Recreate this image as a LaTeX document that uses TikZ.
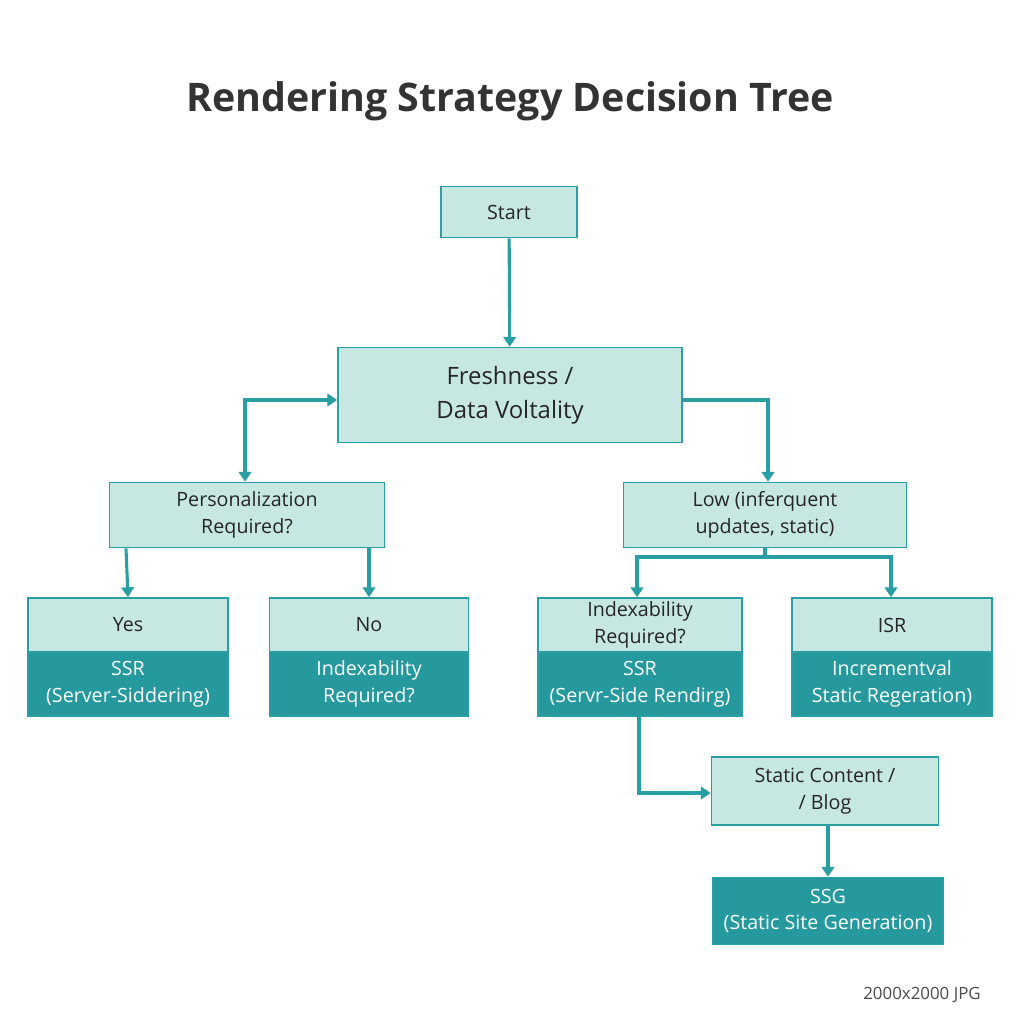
\documentclass[tikz,border=0pt]{standalone}
\usepackage{fontspec}
\setmainfont{Open Sans}
\usetikzlibrary{arrows.meta}
\definecolor{teal1}{HTML}{2A9FA3}
\definecolor{tealL}{HTML}{C6E7E2}
\definecolor{tealD}{HTML}{25999D}
\begin{document}
\begin{tikzpicture}[x=0.025cm,y=-0.025cm,
    box/.style={draw=teal1,line width=1.2pt,fill=tealL,align=center,inner sep=0pt,font=\fontsize{14}{19}\selectfont,text=black!85},
    dark/.style={box,fill=tealD,text=white},
    arr/.style={draw=teal1,line width=2.2pt,-{Triangle[length=7pt,width=9pt]}}]
  \useasboundingbox[fill=white] (0,0) rectangle (1024,1024);
  \node[font=\fontsize{28}{32}\selectfont\bfseries,text=black!80] (title) at (510,101) {Rendering Strategy Decision Tree};
  % first levels
  \node[box,minimum width=136*0.025cm,minimum height=51*0.025cm] (start) at (509,212) {Start};
  \node[box,minimum width=344*0.025cm,minimum height=95*0.025cm,font=\fontsize{17}{24}\selectfont] (fresh) at (510,395) {Freshness /\\Data Voltality};
  \node[box,minimum width=275*0.025cm,minimum height=65*0.025cm] (pers) at (247,515) {Personalization\\Required?};
  \node[box,minimum width=283*0.025cm,minimum height=65*0.025cm] (low) at (765,515) {Low (inferquent\\updates, static)};
  % split boxes
  \node[box,minimum width=200*0.025cm,minimum height=54*0.025cm] (yesT) at (128,625) {Yes};
  \node[dark,minimum width=200*0.025cm,minimum height=64*0.025cm] (yesB) at (128,684) {SSR\\(Server-Siddering)};
  \node[box,minimum width=199*0.025cm,minimum height=54*0.025cm] (noT) at (369,625) {No};
  \node[dark,minimum width=199*0.025cm,minimum height=64*0.025cm] (noB) at (369,684) {Indexability\\Required?};
  \node[box,minimum width=204*0.025cm,minimum height=54*0.025cm] (idxT) at (640,625) {Indexability\\Required?};
  \node[dark,minimum width=204*0.025cm,minimum height=64*0.025cm] (idxB) at (640,684) {SSR\\(Servr-Side Rendirg)};
  \node[box,minimum width=200*0.025cm,minimum height=54*0.025cm] (isrT) at (892,625) {ISR};
  \node[dark,minimum width=200*0.025cm,minimum height=64*0.025cm] (isrB) at (892,684) {Incrementval\\Static Regeration)};
  \node[box,minimum width=227*0.025cm,minimum height=68*0.025cm] (stat) at (825,791) {Static Content /\\/ Blog};
  \node[dark,minimum width=230*0.025cm,minimum height=67*0.025cm] (ssg) at (828,911) {SSG\\(Static Site Generation)};
  \node[font=\fontsize{12}{14}\selectfont,text=black!70] (jpg) at (922,995) {2000x2000 JPG};
  % connectors
  \coordinate (pl) at (245,400);
  \coordinate (fr) at (768,400);
  \coordinate (split) at (765,557);
  \coordinate (sl) at (637,557);
  \coordinate (sr) at (891,557);
  \coordinate (down) at (639,793);
  \draw[arr] (start) -- (fresh);
  \draw[arr,{Triangle[length=7pt,width=9pt]}-{Triangle[length=7pt,width=9pt]}] (pers.north -| pl) -- (pl) -- (fresh.west |- pl);
  \draw[arr] (fresh.east |- fr) -- (fr) -- (low.north -| fr);
  \draw[arr] (pers.south -| yesT.north) ++(-2,0) -- (yesT.north);
  \draw[arr] (pers.south -| noT) -- (noT);
  \draw[draw=teal1,line width=2.2pt] (low.south) -- (split);
  \draw[arr] (split) -- (sl) -- (idxT.north -| sl);
  \draw[arr] (split) -- (sr) -- (isrT.north -| sr);
  \draw[arr] (idxB.south -| down) -- (down) -- (stat.west |- down);
  \draw[arr] (stat.south -| ssg) -- (ssg);
\end{tikzpicture}
\end{document}
